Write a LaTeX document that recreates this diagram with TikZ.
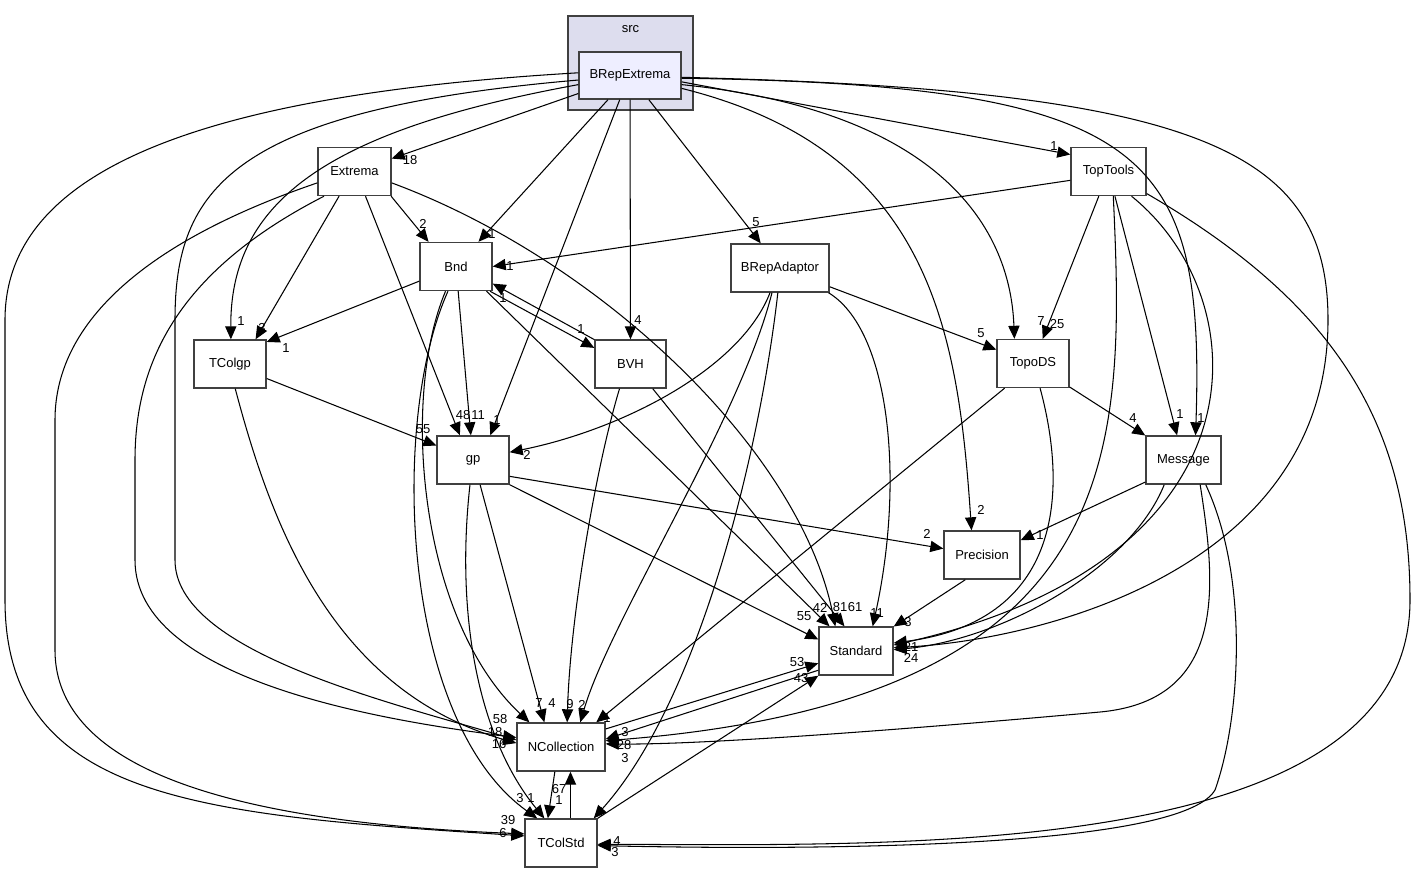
\documentclass[tikz,border=0pt]{standalone}
\usepackage{fontspec}
\setmainfont{Liberation Sans}
\usetikzlibrary{arrows.meta,positioning}
\definecolor{clusterfill}{HTML}{DDDDEE}
\definecolor{focusfill}{HTML}{EEEEFF}

\tikzset{
    dirbox/.style={draw=black!75, line width=0.8pt, fill=white, minimum height=0.96cm, inner sep=0pt},
    dep/.style={-{Triangle[length=7.4pt,width=6.4pt]}, line width=0.6pt},
    lbl/.style={inner sep=0pt},
}

\begin{document}
\begin{tikzpicture}[x=0.02cm, y=-0.02cm, font=\fontsize{7.4}{9}\selectfont]
\useasboundingbox (0,0) rectangle (1419,873);

% cluster src
\node[draw=black!75, line width=0.8pt, fill=clusterfill, minimum width=2.5cm, minimum height=1.88cm] (src) at (630.5,63) {};
\node[anchor=north] (srclabel) at (630.5,19) {src};
\node[dirbox, fill=focusfill, minimum width=2.04cm, minimum height=0.94cm] (brepext) at (630,75.5) {BRepExtrema};

% directories
\node[dirbox, minimum width=1.46cm] (extrema) at (354.5,171.5) {Extrema};
\node[dirbox, minimum width=1.44cm] (bnd) at (456,266.5) {Bnd};
\node[dirbox, minimum width=1.96cm] (brepadaptor) at (780,268) {BRepAdaptor};
\node[dirbox, minimum width=1.5cm] (toptools) at (1108.5,171.5) {TopTools};
\node[dirbox, minimum width=1.44cm] (tcolgp) at (230,364) {TColgp};
\node[dirbox, minimum width=1.42cm] (bvh) at (630.5,364) {BVH};
\node[dirbox, minimum width=1.44cm] (topods) at (1033,363.5) {TopoDS};
\node[dirbox, minimum width=1.44cm] (gp) at (473,460) {gp};
\node[dirbox, minimum width=1.5cm] (message) at (1183.5,460) {Message};
\node[dirbox, minimum width=1.52cm] (precision) at (982,555) {Precision};
\node[dirbox, minimum width=1.48cm] (standard) at (856,651) {Standard};
\node[dirbox, minimum width=1.76cm] (ncoll) at (561,747) {NCollection};
\node[dirbox, minimum width=1.44cm] (tcolstd) at (561,843) {TColStd};

% BRepExtrema
\draw[dep] (brepext) -- (extrema);
\draw[dep] (brepext) -- (bnd);
\draw[dep] (brepext.-113) -- (gp.55);
\draw[dep] (brepext) -- (bvh);
\draw[dep] (brepext) -- (brepadaptor);
\draw[dep] (brepext.-7) -- (toptools.156);
\draw[dep] (brepext.-10) .. controls (930,110) and (1010,220) .. (topods.127);
\draw[dep] (brepext.-3) .. controls (1150,85) and (1205,150) .. (message.64);
\draw[dep] (brepext.-14) .. controls (930,150) and (958,330) .. (precision.113);
\draw[dep] (brepext.-2) .. controls (1200,90) and (1328,150) .. (1328,320) .. controls (1328,570) and (1040,640) .. (standard.5);
\draw[dep] (brepext.190) .. controls (330,130) and (230,200) .. (tcolgp.88);
\draw[dep] (brepext.185) .. controls (230,110) and (175,190) .. (175,320) -- (175,560) .. controls (175,650) and (380,700) .. (ncoll.171);
\draw[dep] (brepext.177) .. controls (200,95) and (5,170) .. (5,320) -- (5,600) .. controls (5,800) and (200,815) .. (tcolstd.169);

% Extrema
\draw[dep] (extrema.-34) -- (bnd.138);
\draw[dep] (extrema.-122) -- (tcolgp.44);
\draw[dep] (extrema.-66) -- (gp.118);
\draw[dep] (extrema.-17) .. controls (600,260) and (800,450) .. (standard.130);
\draw[dep] (extrema.219) .. controls (180,270) and (135,360) .. (135,460) -- (135,560) .. controls (135,680) and (380,720) .. (ncoll.168);
\draw[dep] (extrema.197) .. controls (150,240) and (55,320) .. (55,420) -- (55,650) .. controls (55,790) and (300,825) .. (tcolstd.166);

% Bnd
\draw[dep] (bnd) -- (tcolgp.31);
\draw[dep] (bnd) -- (gp);
\draw[dep] (bnd.-36) -- (bvh.156);
\draw[dep] (bvh.146) -- (bnd.-25);
\draw[dep] (bnd.-39) -- (standard.137);
\draw[dep] (bnd.-113) .. controls (400,400) and (420,620) .. (ncoll.142);
\draw[dep] (bnd.-108) .. controls (390,420) and (400,720) .. (tcolstd.134);

% BRepAdaptor
\draw[dep] (brepadaptor.-112) .. controls (740,370) and (620,430) .. (gp.12);
\draw[dep] (brepadaptor) -- (topods);
\draw[dep] (brepadaptor.-27) .. controls (890,330) and (905,480) .. (standard.56);
\draw[dep] (brepadaptor.-108) .. controls (740,420) and (610,620) .. (ncoll.52);
\draw[dep] (brepadaptor.-95) .. controls (760,450) and (700,700) .. (tcolstd.37);

% TColgp
\draw[dep] (tcolgp) -- (gp);
\draw[dep] (tcolgp.-78) .. controls (270,520) and (330,690) .. (ncoll.175);

% gp
\draw[dep] (gp.-24) -- (precision);
\draw[dep] (gp.-34) -- (standard.163);
\draw[dep] (gp.-74) -- (ncoll.124);
\draw[dep] (gp.-97) .. controls (455,620) and (480,740) .. (tcolstd.124);

% BVH
\draw[dep] (bvh.-48) -- (standard.115);
\draw[dep] (bvh.-114) .. controls (595,470) and (570,620) .. (ncoll.76);

% TopTools
\draw[dep] (toptools.193) -- (bnd.0);
\draw[dep] (toptools) -- (topods);
\draw[dep] (toptools) -- (message);
\draw[dep] (toptools.-47) .. controls (1260,300) and (1270,560) .. (standard.9);
\draw[dep] (toptools.-79) .. controls (1125,450) and (1130,700) .. (ncoll.8);
\draw[dep] (toptools.-30) .. controls (1330,300) and (1410,420) .. (1410,600) .. controls (1410,860) and (900,845) .. (tcolstd.-2);

% TopoDS
\draw[dep] (topods) -- (message);
\draw[dep] (topods.-139) -- (ncoll.35);
\draw[dep] (topods.-74) .. controls (1065,480) and (1070,620) .. (standard.12);

% Message
\draw[dep] (message.210) -- (precision.21);
\draw[dep] (message.232) .. controls (1130,570) and (1000,640) .. (standard.2);
\draw[dep] (message.-56) .. controls (1215,580) and (1230,700) .. (1100,712) .. controls (900,730) and (700,745) .. (ncoll.4);
\draw[dep] (message.-48) .. controls (1250,580) and (1240,720) .. (1215,790) .. controls (1180,850) and (800,850) .. (tcolstd.-4);

% Precision, Standard, NCollection, TColStd
\draw[dep] (precision.-124) -- (standard.33);
\draw[dep] (ncoll.22) -- (standard.198);
\draw[dep] (standard.207) -- (ncoll.10);
\draw[dep] (tcolstd.north east) -- (standard.south west);
\draw[dep] (ncoll.-104) -- (tcolstd.118);
\draw[dep] (tcolstd.69) -- (ncoll.-69);

% edge counts
\foreach \px/\py/\t [count=\i] in {410/160/18, 492/234/1, 497/420/1, 638/320/4, 756/222/5,
    1054/146/1, 1041/321/7, 1201/418/1, 981/510/2, 500/719/58, 495/732/18, 499/744/16,
    508/820/39, 503/833/6, 423/224/2, 262/328/3, 241/321/1, 463/415/48, 840/607/81,
    855/607/61, 286/348/1, 478/415/11, 423/429/55, 581/329/1, 503/298/1, 510/266/1,
    527/455/2, 981/333/5, 820/608/42, 804/616/55, 877/613/11, 908/622/3, 539/703/7,
    552/703/4, 570/704/9, 582/705/2, 607/718/1, 520/798/3, 531/798/1, 559/800/1,
    559/789/67, 600/812/4, 625/732/3, 624/745/28, 625/758/3, 911/647/21, 911/658/24,
    797/662/53, 801/678/43, 617/841/4, 615/852/3, 1057/324/25, 1180/414/1, 1133/418/4,
    1040/535/1, 927/534/2}
    \node[lbl] (lab\i) at (\px,\py) {\t};

\end{tikzpicture}
\end{document}
